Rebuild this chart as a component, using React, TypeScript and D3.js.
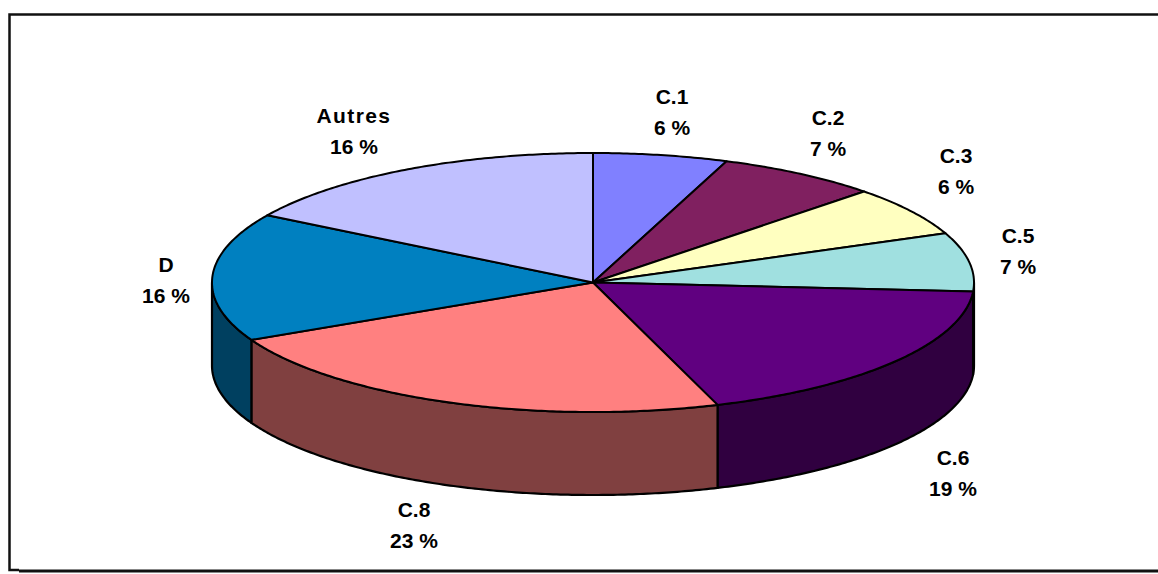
import React from "react";
import * as d3 from "d3";

const categories = ["C.1", "C.2", "C.3", "C.5", "C.6", "C.8", "D", "Autres"];
const shares = [5.7, 6.9, 6.2, 7.3, 18.6, 23.0, 16.0, 16.3];
const percentLabels = ["6 %", "7 %", "6 %", "7 %", "19 %", "23 %", "16 %", "16 %"];

const topColors = ["#8080ff", "#802060", "#ffffc0", "#a0e0e0", "#600080", "#ff8080", "#0080c0", "#c0c0ff"];
const sideColors = ["#404080", "#401030", "#808060", "#507070", "#300040", "#804040", "#004060", "#606080"];
const labelCenters: [number, number][] = [
  [672, 97], [828, 118], [956, 156], [1018, 236], [953, 458], [414, 510], [166, 265], [354, 116],
];
const labelSpacing = [0, 0, 0, 0, 0, 0, 0, 1.4];

const W = 1158;
const H = 574;
const CX = 593;
const CY = 282.5;
const RX = 381;
const RY = 129.5;
const DEPTH = 83;

const x = d3.scaleLinear().domain([-1, 1]).range([CX - RX, CX + RX]);
const y = d3.scaleLinear().domain([-1, 1]).range([CY - RY, CY + RY]);

const pie = d3.pie<number>().sort(null).value((d) => d);
const arcs = pie(shares);

const toPoint = (a: number): [number, number] => [x(Math.sin(a)), y(-Math.cos(a))];
const line = d3.line<[number, number]>();

function arcPoints(a0: number, a1: number): [number, number][] {
  const n = Math.max(2, Math.ceil((a1 - a0) / 0.01));
  return d3.range(n + 1).map((i) => toPoint(a0 + ((a1 - a0) * i) / n));
}

function topPath(a0: number, a1: number) {
  return line([[CX, CY], ...arcPoints(a0, a1)]) + "Z";
}

function sidePath(a0: number, a1: number) {
  const s = Math.max(a0, Math.PI / 2);
  const e = Math.min(a1, (3 * Math.PI) / 2);
  if (e <= s) return null;
  const upper = arcPoints(s, e);
  const lower = upper.map(([px, py]) => [px, py + DEPTH] as [number, number]).reverse();
  return line([...upper, ...lower]) + "Z";
}

export default function App() {
  return (
    <svg
      width={W}
      height={H}
      viewBox={`0 0 ${W} ${H}`}
      style={{ position: "fixed", left: 0, top: 0, background: "#fff" }}
    >
      <path d={`M1158 14.5H9.5V570H19`} fill="none" stroke="#111" strokeWidth={2.5} />
      <path d={`M19 571H1158`} fill="none" stroke="#111" strokeWidth={3} />
      {arcs.map((a, i) => {
        const d = sidePath(a.startAngle, a.endAngle);
        return d ? (
          <path key={"s" + i} d={d} fill={sideColors[i]} stroke="#000" strokeWidth={2.2} strokeLinejoin="round" />
        ) : null;
      })}
      {arcs.map((a, i) => (
        <path
          key={"t" + i}
          d={topPath(a.startAngle, a.endAngle)}
          fill={topColors[i]}
          stroke="#000"
          strokeWidth={2}
          strokeLinejoin="round"
        />
      ))}
      {categories.map((c, i) => (
        <g
          key={c}
          fontFamily="'Liberation Sans', Arial, sans-serif"
          fontWeight="bold"
          fontSize={21}
          textAnchor="middle"
          fill="#000"
        >
          <text x={labelCenters[i][0]} y={labelCenters[i][1]} dy="0.35em" letterSpacing={labelSpacing[i]}>{c}</text>
          <text x={labelCenters[i][0]} y={labelCenters[i][1] + 31} dy="0.35em">{percentLabels[i]}</text>
        </g>
      ))}
    </svg>
  );
}
